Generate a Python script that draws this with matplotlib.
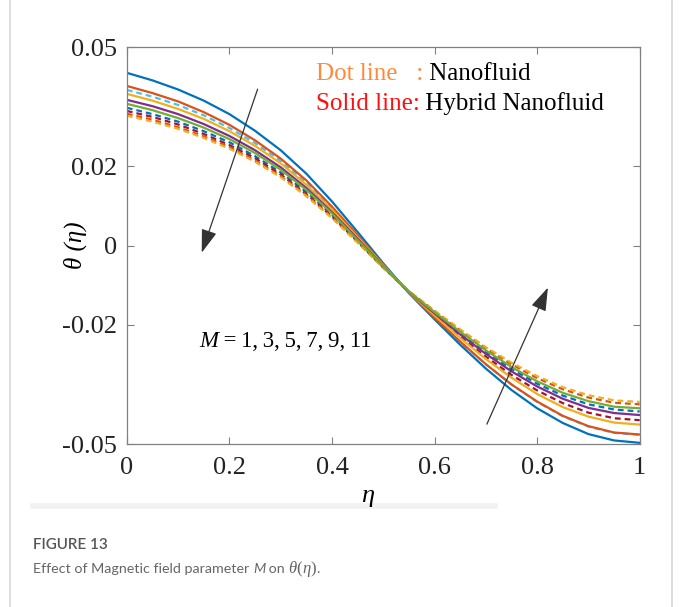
import matplotlib
matplotlib.use('Agg')
import matplotlib.pyplot as plt
from matplotlib.lines import Line2D

plt.rcParams['font.family'] = ['Liberation Serif', 'DejaVu Serif']

# eta grid, step 0.05
eta = [0, 0.05, 0.1, 0.15, 0.2, 0.25, 0.3, 0.35, 0.4, 0.45, 0.5,
       0.55, 0.6, 0.65, 0.7, 0.75, 0.8, 0.85, 0.9, 0.95, 1.0]

# Hybrid nanofluid (solid lines), M = 1,3,5,7,9
hyb_1 = [0.0435, 0.0416, 0.0393, 0.0365, 0.0331, 0.0289, 0.0240, 0.0181, 0.0111, 0.0034, -0.0045,
         -0.0120, -0.0186, -0.0250, -0.0310, -0.0364, -0.0410, -0.0447, -0.0475, -0.0491, -0.0497]
hyb_2 = [0.0402, 0.0384, 0.0363, 0.0336, 0.0304, 0.0265, 0.0219, 0.0164, 0.0098, 0.0026, -0.0048,
         -0.0119, -0.0182, -0.0242, -0.0299, -0.0350, -0.0393, -0.0429, -0.0455, -0.0471, -0.0476]
hyb_3 = [0.0382, 0.0365, 0.0344, 0.0319, 0.0288, 0.0251, 0.0207, 0.0153, 0.0090, 0.0021, -0.0050,
         -0.0118, -0.0176, -0.0233, -0.0286, -0.0333, -0.0374, -0.0407, -0.0431, -0.0446, -0.0451]
hyb_4 = [0.0367, 0.0351, 0.0331, 0.0306, 0.0276, 0.0240, 0.0197, 0.0145, 0.0084, 0.0017, -0.0052,
         -0.0117, -0.0171, -0.0224, -0.0273, -0.0317, -0.0355, -0.0386, -0.0409, -0.0422, -0.0427]
hyb_5 = [0.0357, 0.0341, 0.0321, 0.0297, 0.0268, 0.0233, 0.0191, 0.0140, 0.0081, 0.0014, -0.0053,
         -0.0116, -0.0168, -0.0217, -0.0264, -0.0306, -0.0342, -0.0371, -0.0392, -0.0406, -0.0410]

# Nanofluid (dashed lines)
nano_1 = [0.0392, 0.0375, 0.0354, 0.0328, 0.0296, 0.0258, 0.0213, 0.0158, 0.0094, 0.0023, -0.0049,
          -0.0119, -0.0182, -0.0243, -0.0299, -0.0350, -0.0394, -0.0430, -0.0456, -0.0472, -0.0477]
nano_2 = [0.0347, 0.0331, 0.0312, 0.0288, 0.0260, 0.0225, 0.0184, 0.0135, 0.0077, 0.0012, -0.0054,
          -0.0116, -0.0169, -0.0220, -0.0268, -0.0311, -0.0348, -0.0378, -0.0400, -0.0413, -0.0418]
nano_3 = [0.0339, 0.0324, 0.0305, 0.0281, 0.0253, 0.0220, 0.0179, 0.0130, 0.0073, 0.0010, -0.0055,
          -0.0117, -0.0174, -0.0229, -0.0280, -0.0326, -0.0365, -0.0397, -0.0421, -0.0435, -0.0440]
nano_4 = [0.0332, 0.0317, 0.0298, 0.0275, 0.0248, 0.0214, 0.0175, 0.0127, 0.0071, 0.0008, -0.0056,
          -0.0115, -0.0165, -0.0214, -0.0259, -0.0299, -0.0334, -0.0362, -0.0383, -0.0396, -0.0400]
nano_5 = [0.0327, 0.0312, 0.0294, 0.0271, 0.0244, 0.0211, 0.0172, 0.0124, 0.0069, 0.0007, -0.0056,
          -0.0115, -0.0164, -0.0211, -0.0256, -0.0295, -0.0329, -0.0357, -0.0377, -0.0390, -0.0394]

hyb_curves = [hyb_1, hyb_2, hyb_3, hyb_4, hyb_5]
hyb_colors = ['#0072BD', '#D95319', '#EDB120', '#7E2F8E', '#77AC30']
nano_curves = [nano_1, nano_2, nano_3, nano_4, nano_5]
nano_colors = ['#4DBEEE', '#0072BD', '#A2142F', '#D95319', '#EDB120']

xticks = [0, 0.2, 0.4, 0.6, 0.8, 1]
xticklabels = ['0', '0.2', '0.4', '0.6', '0.8', '1']
yticks = [-0.05, -0.02, 0, 0.02, 0.05]
yticklabels = ['-0.05', '-0.02', '0', '0.02', '0.05']

fig = plt.figure(figsize=(6.82, 6.07), dpi=100)
ax = fig.add_axes([0.186, 0.2685, 0.752, 0.654])

for y, c in zip(nano_curves, nano_colors):
    ax.plot(eta, y, color=c, lw=1.6, linestyle=(0, (2.6, 1.8)))
for y, c in zip(hyb_curves, hyb_colors):
    ax.plot(eta, y, color=c, lw=1.6)

ax.set_xlim(0, 1)
ax.set_ylim(-0.05, 0.05)
ax.set_xticks(xticks)
ax.set_xticklabels(xticklabels)
ax.set_yticks(yticks)
ax.set_yticklabels(yticklabels)
ax.tick_params(direction='in', top=True, right=True, length=5, width=0.8,
               color='#808080', labelsize=19, labelcolor='#222222', pad=7)
ax.tick_params(axis='x', pad=9)
for s in ax.spines.values():
    s.set_color('#808080')
    s.set_linewidth(0.9)

# arrows
ap = dict(arrowstyle='-|>,head_length=0.9,head_width=0.3', color='#333333',
          lw=0.9, mutation_scale=16, shrinkA=0, shrinkB=0)
ax.annotate('', xy=(0.146, -0.0018), xytext=(0.255, 0.0394), arrowprops=ap)
ax.annotate('', xy=(0.821, -0.0106), xytext=(0.702, -0.0450), arrowprops=ap)

# M text
tm = ax.text(0.142, -0.0241, 'M', style='italic', fontsize=16.5, va='center', ha='left')
ax.annotate('\u2009=\u20091,\u20093,\u20095,\u20097,\u20099,\u200911', xy=(1, 0), xycoords=tm,
            va='bottom', ha='left', fontsize=16.5)

# legend text
t1 = ax.text(0.368, 0.0432, 'Dot line   :', color='#FF8A3D', fontsize=18, va='center', ha='left')
ax.annotate(' Nanofluid', xy=(1, 0), xycoords=t1, va='bottom', ha='left', fontsize=18, color='black')
t2 = ax.text(0.368, 0.0357, 'Solid line:', color='#FF1010', fontsize=18, va='center', ha='left')
ax.annotate(' Hybrid Nanofluid', xy=(1, 0), xycoords=t2, va='bottom', ha='left', fontsize=18, color='black')

# axis labels
fig.text(75 / 682, 1 - 245 / 607, '\u03b8 (\u03b7)', rotation=90, style='italic',
         fontsize=18, ha='center', va='center')
fig.text(368 / 682, 1 - 496 / 607, '\u03b7', style='italic', fontsize=19, ha='center', va='center')

# page decorations
fig.add_artist(Line2D([10 / 682, 10 / 682], [0, 1], color='#d9d9d9', lw=1.2))
fig.add_artist(Line2D([672 / 682, 672 / 682], [0, 1], color='#d9d9d9', lw=1.2))
fig.add_artist(Line2D([33 / 682, 495 / 682], [1 - 506 / 607, 1 - 506 / 607], color='#f2f2f2', lw=4))

# caption
fig.text(33 / 682, 1 - 545 / 607, 'FIGURE 13', family='Lato', fontweight='semibold',
         fontsize=11, color='#555555', va='center', ha='left')

renderer = fig.canvas.get_renderer()
pieces = [('Effect of Magnetic field parameter ', 'Lato', 'normal', 10.3),
          ('M', 'Lato', 'italic', 10.3),
          (' on ', 'Lato', 'normal', 10.3),
          ('\u03b8', 'Liberation Serif', 'italic', 12),
          ('(', 'Liberation Serif', 'normal', 12),
          ('\u03b7', 'Liberation Serif', 'italic', 12),
          (')', 'Liberation Serif', 'normal', 12),
          ('.', 'Lato', 'normal', 10.3)]
xpos = 33
for s, fam, sty, fs in pieces:
    t = fig.text(xpos / 682, 1 - 573 / 607, s, family=fam, style=sty, fontsize=fs,
                 color='#666666', va='baseline', ha='left')
    xpos = t.get_window_extent(renderer).x1

plt.savefig('out.png', dpi=100)
